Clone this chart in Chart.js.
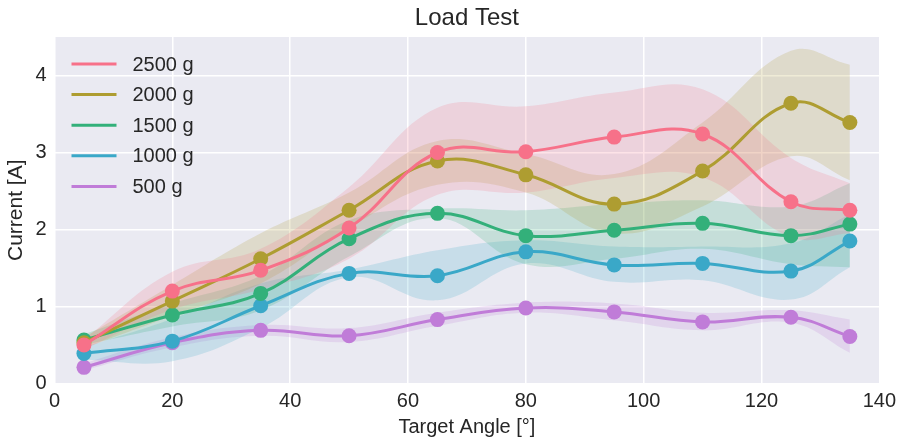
<!DOCTYPE html>
<html>
<head>
<meta charset="utf-8">
<script src="https://cdn.jsdelivr.net/npm/chart.js@4.4.0/dist/chart.umd.min.js"></script>
<style>
  body { margin: 0; background: #fff; }
  #wrap { width: 902px; height: 442px; }
</style>
</head>
<body>
<div id="wrap"><canvas id="loadChart" width="902" height="442"></canvas></div>
<script>
// target angles where the current was measured
var angles = [5, 20, 35, 50, 65, 80, 95, 110, 125, 135];
var loads = ['2500 g', '2000 g', '1500 g', '1000 g', '500 g'];
var xTicks = [0, 20, 40, 60, 80, 100, 120, 140];
var yTicks = [0, 1, 2, 3, 4];

// mean current per load
var cur2500 = [0.50, 1.20, 1.47, 2.02, 3.00, 3.01, 3.20, 3.24, 2.36, 2.25];
var cur2000 = [0.53, 1.07, 1.62, 2.25, 2.89, 2.71, 2.33, 2.76, 3.64, 3.39];
var cur1500 = [0.565, 0.89, 1.17, 1.88, 2.21, 1.92, 1.99, 2.08, 1.92, 2.07];
var cur1000 = [0.39, 0.55, 1.01, 1.43, 1.40, 1.71, 1.54, 1.56, 1.46, 1.85];
var cur500  = [0.21, 0.53, 0.69, 0.62, 0.83, 0.98, 0.93, 0.80, 0.86, 0.61];

// confidence band, low / high
var lo2500 = [0.44, 0.96, 1.22, 1.62, 2.45, 2.48, 2.67, 2.68, 1.90, 1.95];
var hi2500 = [0.57, 1.45, 1.75, 2.55, 3.58, 3.60, 3.78, 3.82, 2.93, 2.60];
var lo2000 = [0.46, 0.88, 1.30, 2.02, 2.58, 2.48, 1.95, 2.30, 2.95, 2.64];
var hi2000 = [0.60, 1.28, 1.95, 2.48, 3.15, 2.98, 2.72, 3.39, 4.32, 4.14];
var lo1500 = [0.50, 0.74, 0.95, 1.65, 2.15, 1.55, 1.62, 1.75, 1.55, 1.51];
var hi1500 = [0.64, 1.04, 1.40, 2.12, 2.27, 2.25, 2.33, 2.38, 2.30, 2.60];
var lo1000 = [0.31, 0.29, 0.72, 1.38, 1.08, 1.56, 1.32, 1.34, 1.09, 1.51];
var hi1000 = [0.47, 0.84, 1.30, 1.48, 1.73, 1.86, 1.78, 1.78, 1.82, 2.20];
var lo500  = [0.17, 0.47, 0.62, 0.54, 0.75, 0.92, 0.82, 0.69, 0.79, 0.40];
var hi500  = [0.26, 0.60, 0.76, 0.72, 0.92, 1.05, 1.04, 0.92, 0.95, 0.83];

var means = [cur2500, cur2000, cur1500, cur1000, cur500];
var lows = [lo2500, lo2000, lo1500, lo1000, lo500];
var highs = [hi2500, hi2000, hi1500, hi1000, hi500];
var colors = ['#f77189', '#ae9d31', '#33b07a', '#3aa8c8', '#c07cd8'];

function hexA(hex, a) {
    var n = parseInt(hex.slice(1), 16);
    return 'rgba(' + (n >> 16) + ',' + ((n >> 8) & 255) + ',' + (n & 255) + ',' + a + ')';
}
function pts(ys) {
    return angles.map(function(x, i) { return { x: x, y: ys[i] }; });
}

var datasets = [];
// main lines first so they sit on top
loads.forEach(function(name, i) {
    datasets.push({
        label: name,
        data: pts(means[i]),
        borderColor: colors[i],
        backgroundColor: colors[i],
        borderWidth: 3,
        pointRadius: 7.5,
        pointBorderWidth: 0,
        pointBackgroundColor: colors[i],
        tension: 0.4,
        fill: false
    });
});
// bands
loads.forEach(function(name, i) {
    datasets.push({
        label: 'lo',
        data: pts(lows[i]),
        borderWidth: 0,
        pointRadius: 0,
        tension: 0.4,
        fill: false
    });
    datasets.push({
        label: 'hi',
        data: pts(highs[i]),
        borderWidth: 0,
        pointRadius: 0,
        tension: 0.4,
        backgroundColor: hexA(colors[i], 0.2),
        fill: '-1'
    });
});

var txt = '#262626';
var font = 'Liberation Sans, Arial, sans-serif';

var plotBg = {
    id: 'plotBg',
    beforeDraw: function(chart) {
        var a = chart.chartArea, c = chart.ctx;
        c.save();
        c.fillStyle = '#eaeaf2';
        c.fillRect(a.left, a.top, a.right - a.left, a.bottom - a.top);
        c.restore();
    }
};

// title and legend drawn by hand so they line up with the axes box
var overlay = {
    id: 'overlay',
    afterDraw: function(chart) {
        var a = chart.chartArea, c = chart.ctx;
        c.save();
        c.fillStyle = txt;
        c.font = '24px ' + font;
        c.textAlign = 'center';
        c.textBaseline = 'middle';
        c.fillText('Load Test', (a.left + a.right) / 2, 18);

        c.font = '20px ' + font;
        c.textAlign = 'left';
        loads.forEach(function(name, i) {
            var y = a.top + 27 + i * 30.6;
            c.strokeStyle = colors[i];
            c.lineWidth = 3;
            c.beginPath();
            c.moveTo(a.left + 17, y);
            c.lineTo(a.left + 62, y);
            c.stroke();
            c.fillText(name, a.left + 78, y + 1);
        });
        c.restore();
    }
};

var ctx = document.getElementById('loadChart').getContext('2d');
var chart = new Chart(ctx, {
    type: 'line',
    data: { datasets: datasets },
    plugins: [plotBg, overlay],
    options: {
        responsive: false,
        animation: false,
        devicePixelRatio: 1,
        layout: { padding: { top: 37, right: 22, left: 0, bottom: 0 } },
        plugins: {
            legend: { display: false },
            title: { display: false },
            tooltip: { enabled: false },
            filler: { drawTime: 'beforeDatasetsDraw' }
        },
        scales: {
            x: {
                type: 'linear',
                min: 0,
                max: 140,
                afterBuildTicks: function(s) { s.ticks = xTicks.map(function(v) { return { value: v }; }); },
                afterFit: function(s) { s.height = 58.5; },
                grid: { color: '#ffffff', lineWidth: 1.5, drawTicks: false },
                border: { display: false },
                ticks: { color: txt, font: { size: 20, family: font }, padding: 6, maxRotation: 0 },
                title: { display: true, text: 'Target Angle [°]', color: txt, font: { size: 20, family: font }, padding: { top: 0, bottom: 3 } }
            },
            y: {
                min: 0,
                max: 4.5,
                afterBuildTicks: function(s) { s.ticks = yTicks.map(function(v) { return { value: v }; }); },
                afterFit: function(s) { s.width = 54.5; },
                grid: { color: '#ffffff', lineWidth: 1.5, drawTicks: false },
                border: { display: false },
                ticks: { color: txt, font: { size: 20, family: font }, padding: 8 },
                title: { display: true, text: 'Current [A]', color: txt, font: { size: 21, family: font }, padding: { top: 4, bottom: 0 } }
            }
        }
    }
});
</script>
</body>
</html>
